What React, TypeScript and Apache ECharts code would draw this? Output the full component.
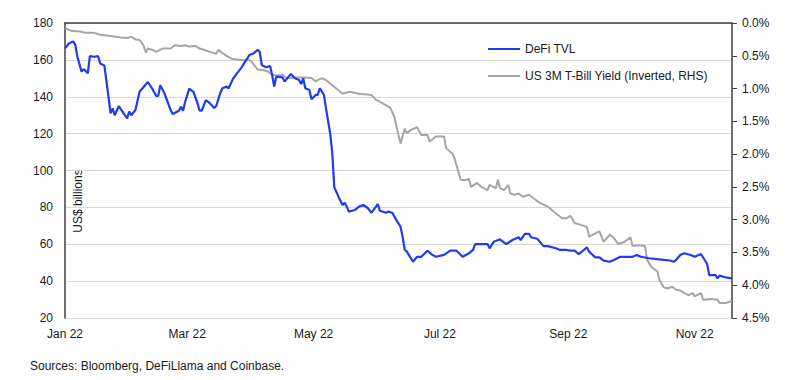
import React, { useEffect, useRef } from "react";
import * as echarts from "echarts";

const YEAR = 2022;
const START_DATE = "2022-01-01";
const END_DATE = "2022-11-19";

const TVL_NAME = "DeFi TVL";
const YIELD_NAME = "US 3M T-Bill Yield (Inverted, RHS)";

// DeFi TVL, US$ billions (left axis)
const defiTvl: [string, number][] = [
  ["01-01", 166.3], ["01-03", 169], ["01-05", 170], ["01-06", 168], ["01-07", 161.7],
  ["01-09", 153.6], ["01-10", 155], ["01-12", 152.7], ["01-13", 162], ["01-15", 161.7],
  ["01-17", 162], ["01-18", 158], ["01-20", 157], ["01-22", 140], ["01-23", 131],
  ["01-24", 133.7], ["01-25", 130], ["01-27", 135], ["01-28", 133.2], ["01-31", 128.3],
  ["02-01", 131.9], ["02-02", 130], ["02-04", 132.8], ["02-06", 142.7], ["02-10", 148],
  ["02-12", 144.6], ["02-14", 140.4], ["02-15", 140.4], ["02-16", 146.2], ["02-18", 141.9],
  ["02-21", 132.8], ["02-22", 130.6], ["02-25", 132.4], ["02-26", 134.6], ["02-27", 132.4],
  ["02-28", 137.3], ["03-02", 144.4], ["03-04", 142.7], ["03-06", 136.4], ["03-07", 132.4],
  ["03-08", 132.4], ["03-10", 138.2], ["03-12", 136.4], ["03-14", 133.9], ["03-15", 135],
  ["03-17", 142.2], ["03-18", 144.6], ["03-20", 145.5], ["03-21", 144.6], ["03-23", 149.5],
  ["03-25", 152.7], ["03-27", 155.5], ["03-29", 159], ["03-31", 162.6], ["04-02", 163.5],
  ["04-04", 165.4], ["04-05", 164.4], ["04-06", 157.2], ["04-08", 156], ["04-10", 156.7],
  ["04-11", 151.8], ["04-12", 145.5], ["04-13", 150.9], ["04-16", 150.5], ["04-17", 148.2],
  ["04-20", 152.3], ["04-22", 150], ["04-24", 149.1], ["04-25", 146.9], ["04-26", 150],
  ["04-27", 144.6], ["04-29", 143.7], ["04-30", 138.6], ["05-02", 141], ["05-03", 141],
  ["05-04", 144.6], ["05-06", 141], ["05-07", 133.7], ["05-09", 120.2], ["05-10", 110],
  ["05-11", 91], ["05-13", 85.8], ["05-15", 81.3], ["05-16", 82.5], ["05-17", 80.4],
  ["05-18", 77.7], ["05-21", 78.6], ["05-23", 80.4], ["05-25", 81.3], ["05-27", 79.8],
  ["05-29", 77.1], ["06-01", 81.8], ["06-02", 78.2], ["06-05", 77.1], ["06-06", 77.7],
  ["06-08", 77.1], ["06-10", 73.1], ["06-12", 69.5], ["06-13", 64], ["06-14", 57],
  ["06-15", 56], ["06-16", 54.2], ["06-18", 50.5], ["06-20", 53.2], ["06-22", 53.2],
  ["06-25", 56.5], ["06-27", 54.5], ["06-29", 53.2], ["07-03", 54.2], ["07-06", 56.5],
  ["07-09", 56.5], ["07-12", 53.2], ["07-15", 55.1], ["07-17", 56.9], ["07-18", 60.1],
  ["07-24", 60.1], ["07-25", 57.8], ["07-27", 61.4], ["07-30", 62.7], ["08-02", 60.1],
  ["08-05", 62.3], ["08-08", 63.8], ["08-09", 62.3], ["08-11", 65.6], ["08-13", 65.6],
  ["08-14", 63.8], ["08-17", 63], ["08-20", 59], ["08-22", 59], ["08-26", 57.8],
  ["08-28", 56.9], ["08-31", 56.9], ["09-02", 56.5], ["09-04", 56.5], ["09-06", 54.7],
  ["09-10", 58.3], ["09-11", 56], ["09-14", 52.9], ["09-16", 52.9], ["09-18", 51.1],
  ["09-21", 50.5], ["09-23", 51.5], ["09-26", 53.2], ["10-02", 53.2], ["10-04", 54.2],
  ["10-06", 53.2], ["10-10", 52.4], ["10-17", 51.5], ["10-20", 51.2], ["10-22", 50.5],
  ["10-23", 51.5], ["10-25", 54.2], ["10-27", 55.1], ["10-30", 54.2], ["11-01", 53.2],
  ["11-04", 54.7], ["11-07", 49.3], ["11-08", 43.3], ["11-11", 43.3], ["11-12", 41.5],
  ["11-13", 43], ["11-16", 42], ["11-19", 41.5],
];

// US 3M T-Bill yield, % (right axis, inverted)
const tbillYield: [string, number][] = [
  ["01-01", 0.08], ["01-04", 0.12], ["01-08", 0.13], ["01-11", 0.15], ["01-15", 0.15],
  ["01-18", 0.18], ["01-23", 0.2], ["01-28", 0.22], ["01-31", 0.23], ["02-02", 0.21],
  ["02-04", 0.25], ["02-06", 0.26], ["02-08", 0.35], ["02-09", 0.45], ["02-10", 0.39],
  ["02-13", 0.42], ["02-14", 0.44], ["02-17", 0.39], ["02-21", 0.39], ["02-23", 0.34],
  ["02-26", 0.35], ["02-28", 0.34], ["03-02", 0.36], ["03-05", 0.35], ["03-07", 0.39],
  ["03-10", 0.42], ["03-14", 0.46], ["03-15", 0.47], ["03-16", 0.41], ["03-18", 0.46],
  ["03-21", 0.52], ["03-23", 0.55], ["03-28", 0.57], ["03-30", 0.55], ["04-01", 0.59],
  ["04-04", 0.71], ["04-07", 0.72], ["04-09", 0.74], ["04-11", 0.79], ["04-13", 0.8],
  ["04-16", 0.79], ["04-18", 0.84], ["04-22", 0.83], ["04-26", 0.83], ["04-30", 0.84],
  ["05-02", 0.89], ["05-03", 0.87], ["05-05", 0.84], ["05-07", 0.87], ["05-10", 0.95],
  ["05-12", 1.0], ["05-15", 1.08], ["05-18", 1.05], ["05-20", 1.06], ["05-23", 1.08],
  ["05-29", 1.1], ["05-31", 1.17], ["06-03", 1.22], ["06-07", 1.29], ["06-09", 1.43],
  ["06-10", 1.58], ["06-12", 1.84], ["06-14", 1.61], ["06-15", 1.68], ["06-17", 1.63],
  ["06-20", 1.59], ["06-22", 1.71], ["06-25", 1.71], ["06-26", 1.81], ["06-29", 1.73],
  ["07-03", 1.73], ["07-04", 1.91], ["07-07", 1.99], ["07-08", 2.06], ["07-11", 2.39],
  ["07-13", 2.4], ["07-15", 2.38], ["07-16", 2.5], ["07-19", 2.44], ["07-21", 2.5],
  ["07-24", 2.55], ["07-25", 2.47], ["07-28", 2.52], ["07-29", 2.39], ["07-30", 2.52],
  ["08-01", 2.55], ["08-03", 2.47], ["08-04", 2.6], ["08-06", 2.62], ["08-08", 2.6],
  ["08-10", 2.65], ["08-13", 2.62], ["08-15", 2.67], ["08-18", 2.74], ["08-22", 2.8],
  ["08-25", 2.88], ["08-27", 2.93], ["08-29", 2.98], ["08-31", 2.98], ["09-02", 2.94],
  ["09-04", 3.05], ["09-07", 3.08], ["09-10", 3.11], ["09-11", 3.26], ["09-14", 3.21],
  ["09-16", 3.18], ["09-18", 3.34], ["09-21", 3.23], ["09-23", 3.28], ["09-25", 3.37],
  ["09-28", 3.34], ["10-01", 3.27], ["10-02", 3.4], ["10-04", 3.39], ["10-08", 3.4],
  ["10-09", 3.61], ["10-11", 3.72], ["10-14", 3.79], ["10-15", 3.92], ["10-17", 4.03],
  ["10-19", 4.05], ["10-21", 4.02], ["10-23", 4.07], ["10-25", 4.08], ["10-27", 4.12],
  ["10-29", 4.15], ["10-31", 4.12], ["11-01", 4.17], ["11-04", 4.12], ["11-05", 4.22],
  ["11-09", 4.21], ["11-12", 4.22], ["11-13", 4.27], ["11-16", 4.27], ["11-18", 4.25],
  ["11-19", 4.25],
];

const LEFT_MIN = 20, LEFT_MAX = 180, LEFT_STEP = 20;
const RIGHT_MIN = 0, RIGHT_MAX = 4.5, RIGHT_STEP = 0.5;
const LABEL_MONTHS = ["01", "03", "05", "07", "09", "11"];
const MONTH_NAMES = ["Jan", "Feb", "Mar", "Apr", "May", "Jun", "Jul", "Aug", "Sep", "Oct", "Nov", "Dec"];

const Y_AXIS_TITLE = "US$ billions";
const SOURCE_NOTE = "Sources: Bloomberg, DeFiLlama and Coinbase.";

function buildDays(start: string, end: string): string[] {
  const out: string[] = [];
  const d = new Date(start + "T00:00:00Z");
  const e = new Date(end + "T00:00:00Z");
  while (d.getTime() <= e.getTime()) {
    out.push(d.toISOString().slice(0, 10));
    d.setUTCDate(d.getUTCDate() + 1);
  }
  return out;
}

const FONT = "'Liberation Sans', Arial, Helvetica, sans-serif";
const BLUE = "#1f3cf0";
const GREY = "#a6a6a6";
const AXIS = "#404040";
const TEXT = "#1a1a1a";

export default function App() {
  const ref = useRef<HTMLDivElement>(null);

  useEffect(() => {
    if (!ref.current) return;
    const chart = echarts.init(ref.current, undefined, { renderer: "svg" });
    const days = buildDays(START_DATE, END_DATE);
    const full = (md: string) => `${YEAR}-${md}`;

    chart.setOption({
      animation: false,
      backgroundColor: "#ffffff",
      textStyle: { fontFamily: FONT },
      grid: { left: 65, right: 54, top: 23, bottom: 62, containLabel: false, outerBoundsMode: "none" },
      legend: {
        orient: "vertical",
        left: 483,
        top: 38,
        icon: "rect",
        itemWidth: 32,
        itemHeight: 2,
        itemGap: 15,
        textStyle: { fontSize: 12, color: TEXT, fontFamily: FONT },
        data: [TVL_NAME, YIELD_NAME],
      },
      xAxis: {
        type: "category",
        data: days,
        boundaryGap: false,
        axisLine: { show: true, lineStyle: { color: AXIS, width: 1.5 } },
        axisTick: { show: false },
        splitLine: { show: false },
        axisLabel: {
          margin: 10,
          fontSize: 12,
          color: TEXT,
          fontFamily: FONT,
          interval: (_i: number, v: string) => v.slice(8) === "01" && LABEL_MONTHS.includes(v.slice(5, 7)),
          formatter: (v: string) => `${MONTH_NAMES[parseInt(v.slice(5, 7), 10) - 1]} ${v.slice(2, 4)}`,
        },
      },
      yAxis: [
        {
          type: "value",
          min: LEFT_MIN,
          max: LEFT_MAX,
          interval: LEFT_STEP,
          position: "left",
          axisLine: { show: true, lineStyle: { color: AXIS, width: 1.5 } },
          axisTick: { show: false },
          splitLine: { show: true, lineStyle: { color: "#d9d9d9", width: 1 } },
          axisLabel: { margin: 12, fontSize: 12, color: TEXT, fontFamily: FONT },
        },
        {
          type: "value",
          min: RIGHT_MIN,
          max: RIGHT_MAX,
          interval: RIGHT_STEP,
          inverse: true,
          position: "right",
          axisLine: { show: true, lineStyle: { color: AXIS, width: 1.5 } },
          axisTick: { show: true, length: 5, lineStyle: { color: AXIS } },
          splitLine: { show: false },
          axisLabel: {
            margin: 10,
            fontSize: 12,
            color: TEXT,
            fontFamily: FONT,
            formatter: (v: number) => `${v.toFixed(1)}%`,
          },
        },
      ],
      series: [
        {
          name: YIELD_NAME,
          type: "line",
          yAxisIndex: 1,
          showSymbol: false,
          symbol: "none",
          color: GREY,
          lineStyle: { color: GREY, width: 2 },
          data: tbillYield.map(([d, v]) => [full(d), v]),
        },
        {
          name: TVL_NAME,
          type: "line",
          yAxisIndex: 0,
          showSymbol: false,
          symbol: "none",
          color: BLUE,
          lineStyle: { color: BLUE, width: 2.2 },
          data: defiTvl.map(([d, v]) => [full(d), v]),
        },
      ],
      graphic: [
        {
          type: "text",
          x: 78,
          y: 201,
          rotation: Math.PI / 2,
          style: {
            text: Y_AXIS_TITLE,
            fill: TEXT,
            font: `12px ${FONT}`,
            textAlign: "center",
            textVerticalAlign: "middle",
          },
        },
        {
          type: "text",
          x: 30,
          y: 366,
          style: {
            text: SOURCE_NOTE,
            fill: TEXT,
            font: `12px ${FONT}`,
            textAlign: "left",
            textVerticalAlign: "middle",
          },
        },
      ],
    });

    return () => chart.dispose();
  }, []);

  return (
    <div
      ref={ref}
      style={{ position: "fixed", left: 0, top: 0, width: 786, height: 380, background: "#fff" }}
    />
  );
}
